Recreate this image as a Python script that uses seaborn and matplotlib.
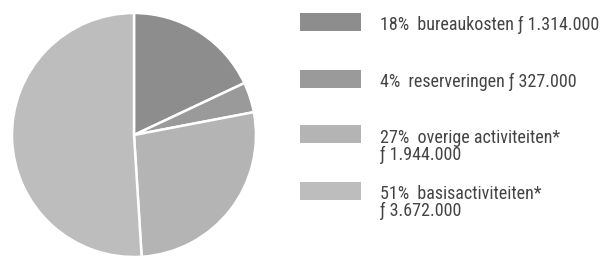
import matplotlib
matplotlib.use("Agg")
import matplotlib.pyplot as plt
import seaborn as sns
from matplotlib.patches import Rectangle
from matplotlib import font_manager

sns.set_style("white")

names = set(f.name for f in font_manager.fontManager.ttflist)
fam = "DejaVu Sans"
for cand in ["Roboto Condensed", "Archivo Narrow", "PT Sans Narrow",
             "Fira Sans Condensed", "IBM Plex Sans Condensed",
             "Liberation Sans Narrow"]:
    if cand in names:
        fam = cand
        break
plt.rcParams['font.family'] = [fam, 'DejaVu Sans']

# data
shares = [18, 4, 27, 51]
labels_line1 = ["18%  bureaukosten ƒ 1.314.000",
                "4%  reserveringen ƒ 327.000",
                "27%  overige activiteiten*",
                "51%  basisactiviteiten*"]
labels_line2 = ["", "", "ƒ 1.944.000", "ƒ 3.672.000"]
colors = ["#8d8d8d", "#9a9a9a", "#b4b4b4", "#bdbdbd"]

W, H = 606, 259
fig = plt.figure(figsize=(W / 100, H / 100), dpi=100)
fig.patch.set_facecolor("white")

cx, cy, r = 134, 135, 122
ax = fig.add_axes([(cx - r) / W, (H - cy - r) / H, 2 * r / W, 2 * r / H])
ax.pie(shares, colors=colors, startangle=90, counterclock=False,
       wedgeprops=dict(edgecolor="white", linewidth=1.8))
ax.set_aspect("equal")
ax.set_xlim(-1, 1)
ax.set_ylim(-1, 1)
ax.axis("off")

# legend
box_tops = [13, 70, 125, 182]
baselines = [30, 87, 143, 199]
for i in range(len(shares)):
    y0 = box_tops[i]
    fig.add_artist(Rectangle((300 / W, (H - y0 - 18) / H), 61 / W, 18 / H,
                             transform=fig.transFigure, facecolor=colors[i],
                             edgecolor="none"))
    fig.text(380 / W, (H - baselines[i]) / H, labels_line1[i], fontsize=13,
             color="#444444", va="baseline", ha="left")
    if labels_line2[i]:
        fig.text(380 / W, (H - baselines[i] - 17) / H, labels_line2[i],
                 fontsize=13, color="#444444", va="baseline", ha="left")

fig.savefig("out.png", dpi=100, facecolor="white")
